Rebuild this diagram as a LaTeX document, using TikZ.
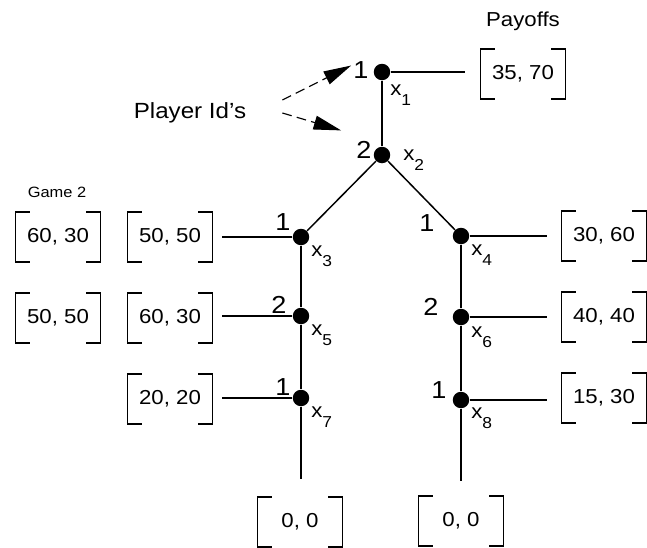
\documentclass[tikz,border=0pt]{standalone}
\usepackage{fontspec}
\setmainfont{Liberation Sans}[FakeStretch=1.1]
\usetikzlibrary{arrows.meta, calc}
\tikzset{
    decision/.style={circle, fill=black, inner sep=0pt, minimum size=0.33cm},
    payoff/.style={rectangle, minimum width=1.68cm, minimum height=0.98cm, font=\fontsize{11.5}{13}\selectfont},
    playerid/.style={font=\fontsize{14}{16}\selectfont, inner sep=0pt, anchor=base},
    nodelabel/.style={font=\fontsize{11.5}{13}\selectfont, inner sep=0pt, anchor=base west},
    move/.style={line width=0.85pt},
    tie/.style={line width=0.85pt, shorten >=#1},
    bracket/.style={line width=0.75pt},
    idarrow/.style={line width=0.65pt, dash pattern=on 5.5pt off 3pt, -{Triangle[length=0.55cm,width=0.28cm]}},
    caption/.style={font=\fontsize{11.5}{13}\selectfont},
}
\newcommand{\xlab}[1]{x\raisebox{-0.5em}{\fontsize{9}{9}\selectfont #1}}

\begin{document}
\begin{tikzpicture}[x=0.02cm, y=-0.02cm]
\useasboundingbox (0,0) rectangle (647,548);

% decision nodes
\node[decision] (x1) at (382,72) {};
\node[decision] (x2) at (382,155) {};
\node[decision] (x3) at (301,237) {};
\node[decision] (x4) at (461,236) {};
\node[decision] (x5) at (301,316) {};
\node[decision] (x6) at (461,317) {};
\node[decision] (x7) at (301,398) {};
\node[decision] (x8) at (461,400) {};

% player ids
\node[playerid] (id1) at (361,78) {1};
\node[playerid] (id2) at (364,158) {2};
\node[playerid] (id3) at (283,230) {1};
\node[playerid] (id4) at (427,231) {1};
\node[playerid] (id5) at (279,313) {2};
\node[playerid] (id6) at (431,315) {2};
\node[playerid] (id7) at (283,395) {1};
\node[playerid] (id8) at (439,398) {1};

% node names
\node[nodelabel] (n1) at (390,95) {\xlab{1}};
\node[nodelabel] (n2) at (403,160) {\xlab{2}};
\node[nodelabel] (n3) at (311,256) {\xlab{3}};
\node[nodelabel] (n4) at (471,255) {\xlab{4}};
\node[nodelabel] (n5) at (311,335) {\xlab{5}};
\node[nodelabel] (n6) at (471,337) {\xlab{6}};
\node[nodelabel] (n7) at (311,417) {\xlab{7}};
\node[nodelabel] (n8) at (471,418) {\xlab{8}};

% payoffs
\node[payoff] (p1) at (523,74) {35, 70};
\node[payoff] (p3) at (170,237) {50, 50};
\node[payoff] (p5) at (170,318) {60, 30};
\node[payoff] (p7) at (170,399) {20, 20};
\node[payoff] (p4) at (604,236) {30, 60};
\node[payoff] (p6) at (604,317) {40, 40};
\node[payoff] (p8) at (604,398) {15, 30};
\node[payoff] (p9) at (300,522) {0, 0};
\node[payoff] (p10) at (461,521) {0, 0};
\node[payoff] (g3) at (58,237) {60, 30};
\node[payoff] (g5) at (58,318) {50, 50};

\foreach \b in {p1,p3,p5,p7,p4,p6,p8,p9,p10,g3,g5} {
  \draw[bracket] ($(\b.north west)+(14,0)$) -| (\b.south west) -- ++(14,0);
  \draw[bracket] ($(\b.north east)+(-14,0)$) -| (\b.south east) -- ++(-14,0);
}

% captions
\node[caption] (payoffs) at (523,21) {Payoffs};
\node[caption, font=\fontsize{12.5}{14}\selectfont] (pid) at (190,113) {Player Id's};
\node[caption, font=\fontsize{8.5}{10}\selectfont] (game2) at (57,192) {Game 2};

% tree
\draw[move] (x1) -- (x2);
\draw[move] (x2) -- (x3);
\draw[move] (x2) -- (x4);
\draw[move] (x3) -- (x5);
\draw[move] (x5) -- (x7);
\draw[move] (x4) -- (x6);
\draw[move] (x6) -- (x8);
\draw[tie=0.32cm] (x1) -- (p1.west |- x1);
\draw[tie=0.2cm] (x3) -- (p3.east |- x3);
\draw[tie=0.2cm] (x5) -- (p5.east |- x5);
\draw[tie=0.2cm] (x7) -- (p7.east |- x7);
\draw[tie=0.3cm] (x4) -- (p4.west |- x4);
\draw[tie=0.3cm] (x6) -- (p6.west |- x6);
\draw[tie=0.3cm] (x8) -- (p8.west |- x8);
\draw[tie=0.36cm] (x7) -- (p9.north -| x7);
\draw[tie=0.3cm] (x8) -- (p10.north -| x8);

% player id pointers
\draw[idarrow] ($(pid.east)+(30,-13)$) -- ($(id1.west)+(-2,-4)$);
\draw[idarrow] ($(pid.east)+(30,0)$) -- ($(id2.west)+(-15,-19)$);
\end{tikzpicture}
\end{document}
